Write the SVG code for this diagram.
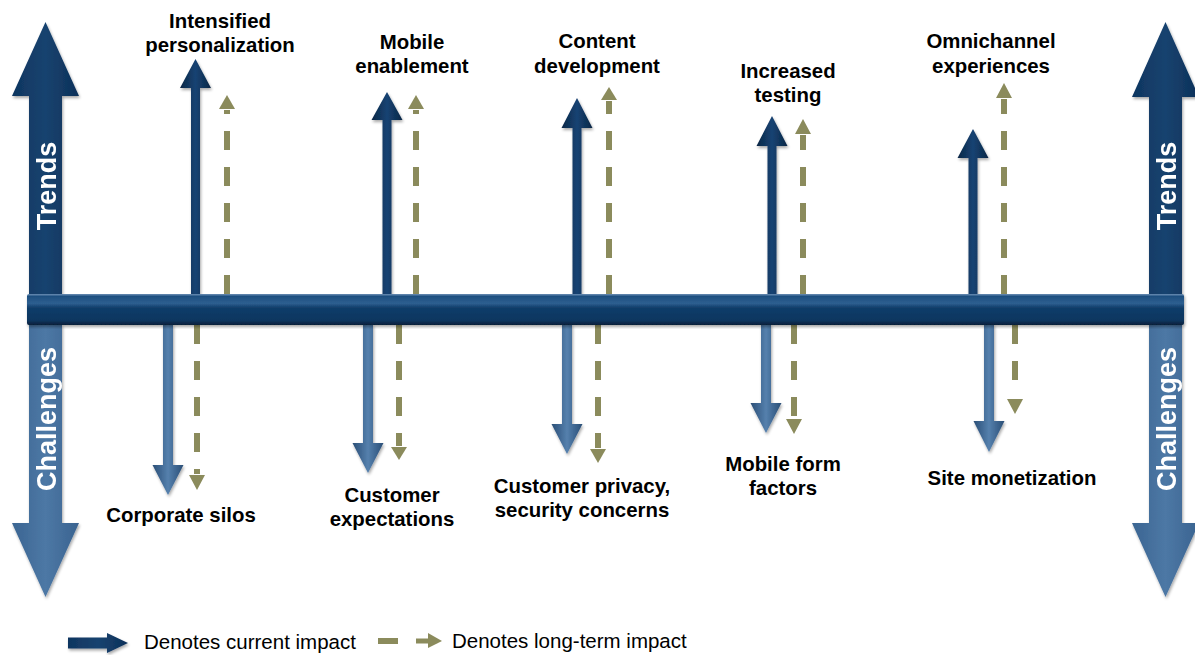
<svg xmlns="http://www.w3.org/2000/svg" width="1195" height="655" viewBox="0 0 1195 655">
<defs>
<linearGradient id="navyH" x1="0" y1="0" x2="1" y2="0">
<stop offset="0" stop-color="#0a2746"/><stop offset="0.5" stop-color="#174373"/><stop offset="1" stop-color="#0a2746"/>
</linearGradient>
<linearGradient id="steelH" x1="0" y1="0" x2="1" y2="0">
<stop offset="0" stop-color="#2a4e76"/><stop offset="0.5" stop-color="#5580ad"/><stop offset="1" stop-color="#2a4e76"/>
</linearGradient>
<linearGradient id="bigUp" x1="0" y1="0" x2="1" y2="0">
<stop offset="0" stop-color="#0f3560"/><stop offset="0.5" stop-color="#17436f"/><stop offset="1" stop-color="#0d3059"/>
</linearGradient>
<linearGradient id="bigDown" x1="0" y1="0" x2="1" y2="0">
<stop offset="0" stop-color="#3b6592"/><stop offset="0.5" stop-color="#4d78a5"/><stop offset="1" stop-color="#3a6390"/>
</linearGradient>
<linearGradient id="barG" x1="0" y1="0" x2="0" y2="1">
<stop offset="0" stop-color="#6a8fb5"/><stop offset="0.08" stop-color="#1f4f80"/><stop offset="0.3" stop-color="#2e5f90"/><stop offset="0.45" stop-color="#0f3c69"/><stop offset="0.85" stop-color="#0c3660"/><stop offset="1" stop-color="#061f3a"/>
</linearGradient>
<filter id="sh" x="-20%" y="-5%" width="140%" height="115%">
<feGaussianBlur in="SourceAlpha" stdDeviation="1.5"/><feOffset dx="1" dy="2" result="b"/>
<feComponentTransfer><feFuncA type="linear" slope="0.35"/></feComponentTransfer>
<feMerge><feMergeNode/><feMergeNode in="SourceGraphic"/></feMerge>
</filter>
</defs>
<style>
.lbl{font-family:"Liberation Sans",Arial,sans-serif;font-weight:bold;font-size:20.4px;fill:#000;text-anchor:middle}
.big{font-family:"Liberation Sans",Arial,sans-serif;font-weight:bold;font-size:27px;fill:#fff;text-anchor:middle}
.leg{font-family:"Liberation Sans",Arial,sans-serif;font-size:20.5px;fill:#000}
.up{fill:url(#navyH)}
.dn{fill:url(#steelH)}
.dash{stroke:#8b8b5c;stroke-width:6;stroke-dasharray:19 17;fill:none}
.olive{fill:#8b8b5c}
</style>

<g id="axis-left" filter="url(#sh)">
<polygon fill="url(#bigUp)" points="45.5,22 79,96 62,96 62,296 29,296 29,96 12,96"/>
<polygon fill="url(#bigDown)" points="29,324 62,324 62,523 79,523 45.5,597 12,523 29,523"/>
<text class="big" transform="translate(55.5,186) rotate(-90)">Trends</text>
<text class="big" transform="translate(55.5,419) rotate(-90)">Challenges</text>
</g>
<g id="axis-right" filter="url(#sh)">
<polygon fill="url(#bigUp)" points="1165.5,22 1199,97 1182,97 1182,296 1149,296 1149,97 1132,97"/>
<polygon fill="url(#bigDown)" points="1149,324 1182,324 1182,523 1199,523 1165.5,597 1132,523 1149,523"/>
<text class="big" transform="translate(1175.5,186) rotate(-90)">Trends</text>
<text class="big" transform="translate(1175.5,419) rotate(-90)">Challenges</text>
</g>

<g id="connectors">
<g filter="url(#sh)">
<polygon class="up" points="195.5,59 211,88 200,88 200,295 191,295 191,88 180,88"/>
<polygon class="up" points="387,92 402.5,120 391.5,120 391.5,295 382.5,295 382.5,120 371.5,120"/>
<polygon class="up" points="577,98 592.5,128 581.5,128 581.5,295 572.5,295 572.5,128 561.5,128"/>
<polygon class="up" points="772,116 787.5,146 776.5,146 776.5,295 767.5,295 767.5,146 756.5,146"/>
<polygon class="up" points="973,129 988.5,158 977.5,158 977.5,295 968.5,295 968.5,158 957.5,158"/>
<polygon class="dn" points="163,324 173,324 173,465 183.5,465 168,495 152.5,465 163,465"/>
<polygon class="dn" points="363,324 373,324 373,443 383.5,443 368,473 352.5,443 363,443"/>
<polygon class="dn" points="562,324 572,324 572,424 582.5,424 567,454 551.5,424 562,424"/>
<polygon class="dn" points="761,324 771,324 771,403 781.5,403 766,433 750.5,403 761,403"/>
<polygon class="dn" points="984,324 994,324 994,421 1004.5,421 989,452 973.5,421 984,421"/>
</g>
<path class="dash" d="M227 294V110M416 294V110M609 294V101M803 294V135M1004 294V99"/>
<polygon class="olive" points="227,95 235,109 219,109"/>
<polygon class="olive" points="416,95 424,109 408,109"/>
<polygon class="olive" points="609,87 617,100 601,100"/>
<polygon class="olive" points="803,119 811,134 795,134"/>
<polygon class="olive" points="1004,83 1012,98 996,98"/>
<path class="dash" d="M197 325V474M399 325V446M598 325V448M794 325V418M1015 325V396"/>
<polygon class="olive" points="189,475 205,475 197,490"/>
<polygon class="olive" points="391,447 407,447 399,460"/>
<polygon class="olive" points="590,449 606,449 598,463"/>
<polygon class="olive" points="786,419 802,419 794,434"/>
<polygon class="olive" points="1007,399 1023,399 1015,414"/>
</g>

<g id="timeline-bar" filter="url(#sh)">
<rect x="27" y="294" width="1157" height="31" rx="2" fill="url(#barG)"/>
</g>

<g id="trend-intensified-personalization"><text class="lbl" x="220" y="28">Intensified</text><text class="lbl" x="220" y="52">personalization</text></g>
<g id="trend-mobile-enablement"><text class="lbl" x="412" y="49">Mobile</text><text class="lbl" x="412" y="73">enablement</text></g>
<g id="trend-content-development"><text class="lbl" x="597" y="48">Content</text><text class="lbl" x="597" y="73">development</text></g>
<g id="trend-increased-testing"><text class="lbl" x="788" y="78">Increased</text><text class="lbl" x="788" y="102">testing</text></g>
<g id="trend-omnichannel"><text class="lbl" x="991" y="48">Omnichannel</text><text class="lbl" x="991" y="73">experiences</text></g>

<g id="challenge-corporate-silos"><text class="lbl" x="181" y="522">Corporate silos</text></g>
<g id="challenge-customer-expectations"><text class="lbl" x="392" y="502">Customer</text><text class="lbl" x="392" y="526">expectations</text></g>
<g id="challenge-customer-privacy"><text class="lbl" x="582" y="493">Customer privacy,</text><text class="lbl" x="582" y="517">security concerns</text></g>
<g id="challenge-mobile-form-factors"><text class="lbl" x="783" y="471">Mobile form</text><text class="lbl" x="783" y="495">factors</text></g>
<g id="challenge-site-monetization"><text class="lbl" x="1012" y="485">Site monetization</text></g>

<g id="legend">
<polygon filter="url(#sh)" fill="url(#bigUp)" points="68,637.5 107,637.5 107,633 128,643 107,653 107,648.5 68,648.5"/>
<text class="leg" x="144" y="649">Denotes current impact</text>
<rect x="378" y="638" width="20" height="6" class="olive"/>
<polygon class="olive" points="416,638.5 428,638.5 428,633 442,641 428,648 428,643.5 416,643.5"/>
<text class="leg" x="452" y="648">Denotes long-term impact</text>
</g>
</svg>
